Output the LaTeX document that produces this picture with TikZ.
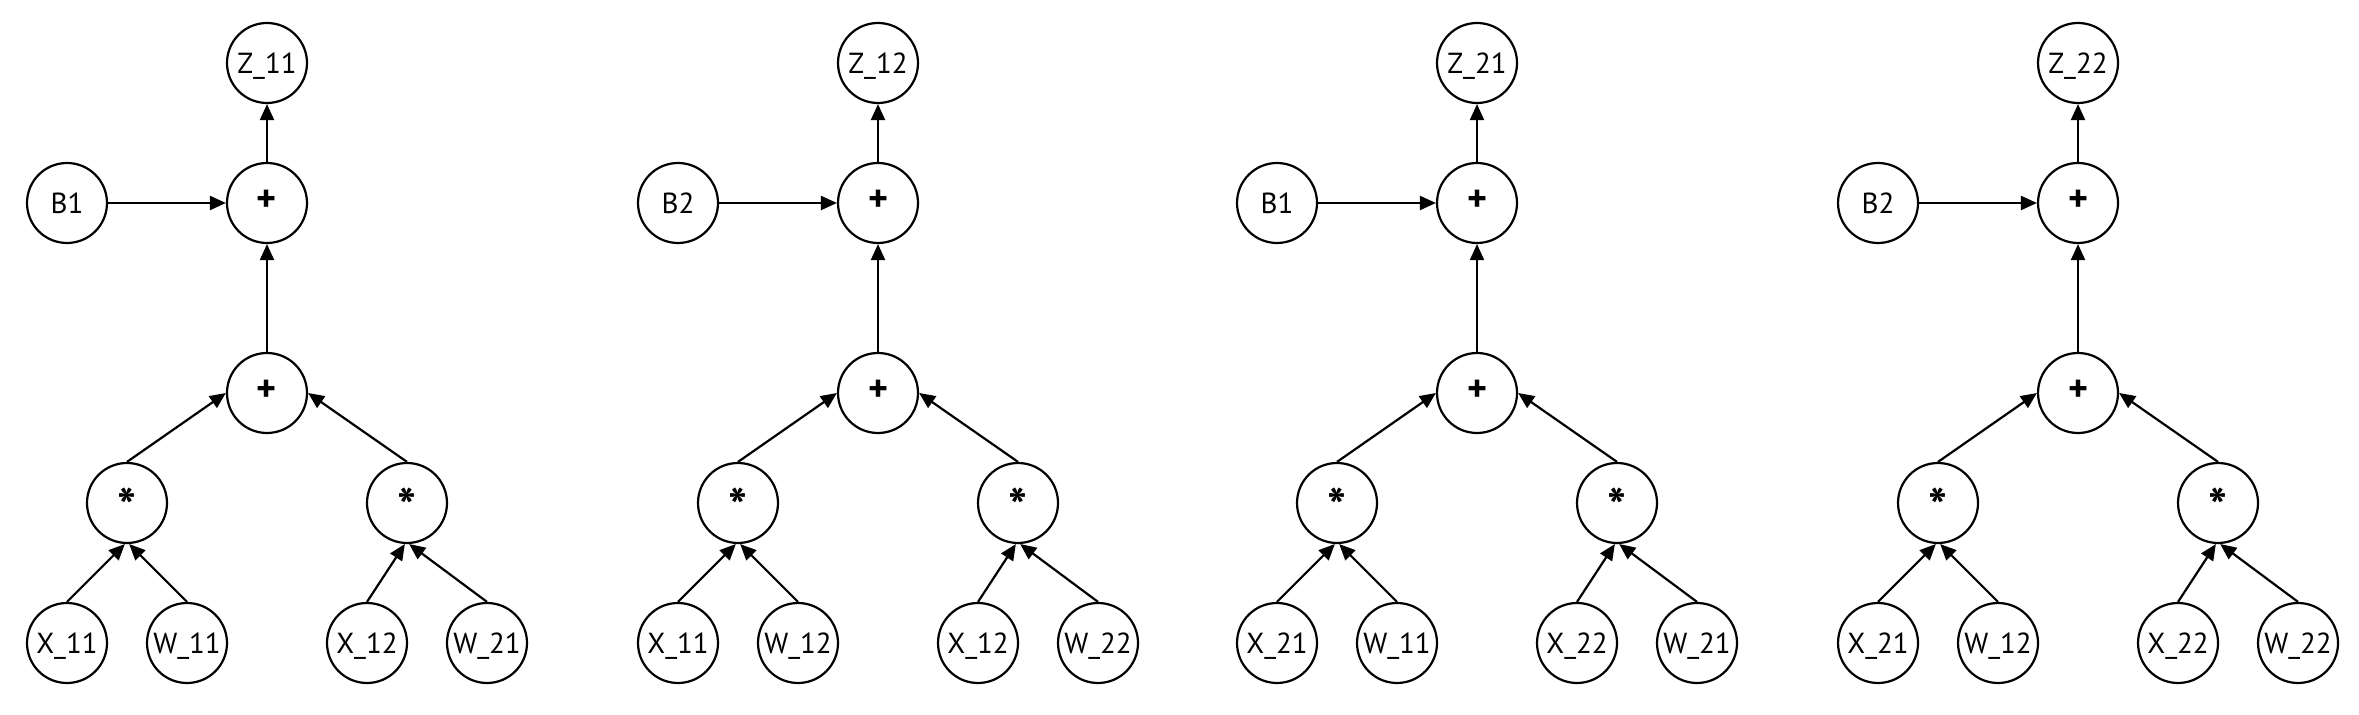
\documentclass[tikz,border=0pt]{standalone}
\usepackage{fontspec}
\setmainfont{PT Sans}
\usetikzlibrary{arrows.meta}
\begin{document}
\begin{tikzpicture}[x=0.5pt,y=-0.5pt,
  nd/.style={circle,draw,line width=1.1pt,minimum size=40pt,inner sep=0pt,
    font=\fontsize{14.5pt}{16pt}\selectfont,text height=10.1pt,text depth=0pt},
  op/.style={nd,font=\fontsize{19pt}{20pt}\selectfont\bfseries,text height=9pt},
  star/.style={nd,font=\fontsize{25pt}{26pt}\selectfont\bfseries,text height=21pt},
  ed/.style={line width=1.1pt,-{Triangle[length=8pt,width=7pt]}}]
\useasboundingbox (0,0) rectangle (2359,715);
\foreach \cx/\t/\z/\b/\xl/\wl/\xr/\wr in {
  267/a/Z\_11/B1/X\_11/W\_11/X\_12/W\_21,
  878/b/Z\_12/B2/X\_11/W\_12/X\_12/W\_22,
  1477/c/Z\_21/B1/X\_21/W\_11/X\_22/W\_21,
  2078/d/Z\_22/B2/X\_21/W\_12/X\_22/W\_22}{
  \node[nd] (\t z) at (\cx,63) {\z};
  \node[op] (\t p2) at (\cx,203) {+};
  \node[nd] (\t b) at (\cx-200,203) {\b};
  \node[op] (\t p1) at (\cx,393) {+};
  \node[star] (\t ml) at (\cx-140,503) {*};
  \node[star] (\t mr) at (\cx+140,503) {*};
  \node[nd] (\t xl) at (\cx-200,643) {\xl};
  \node[nd] (\t wl) at (\cx-80,643) {\wl};
  \node[nd] (\t xr) at (\cx+100,643) {\xr};
  \node[nd] (\t wr) at (\cx+220,643) {\wr};
  \draw[ed] (\t p2.north) -- (\t z.south);
  \draw[ed] (\t b.east) -- (\t p2.west);
  \draw[ed] (\t p1.north) -- (\t p2.south);
  \draw[ed] (\t ml.north) -- (\t p1.west);
  \draw[ed] (\t mr.north) -- (\t p1.east);
  \draw[ed] (\t xl.north) -- (\t ml.-93);
  \draw[ed] (\t wl.north) -- (\t ml.-87);
  \draw[ed] (\t xr.north) -- (\t mr.-93);
  \draw[ed] (\t wr.north) -- (\t mr.-87);
}
\end{tikzpicture}
\end{document}
